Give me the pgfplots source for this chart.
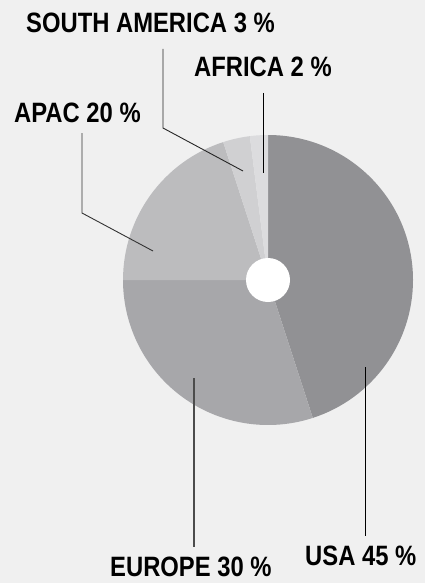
\documentclass[border=0pt]{standalone}
\usepackage{pgfplots}
\pgfplotsset{compat=1.18}
\usepackage{pgfplotstable}
\usepackage{fontspec}
\newfontfamily\labelfont[FakeStretch=0.85]{Liberation Sans Bold}

\definecolor{bg}{HTML}{F0F0F0}
\definecolor{cUSA}{HTML}{919194}
\definecolor{cEU}{HTML}{A7A7AA}
\definecolor{cAPAC}{HTML}{BCBCBE}
\definecolor{cSA}{HTML}{D0D0D2}
\definecolor{cAF}{HTML}{DCDCDE}

\pgfplotstableread{
region value
USA 45
EUROPE 30
APAC 20
SOUTHAMERICA 3
AFRICA 2
}\piedata
\pgfplotstablegetelem{0}{value}\of\piedata \edef\vA{\pgfplotsretval}
\pgfplotstablegetelem{1}{value}\of\piedata \edef\vB{\pgfplotsretval}
\pgfplotstablegetelem{2}{value}\of\piedata \edef\vC{\pgfplotsretval}
\pgfplotstablegetelem{3}{value}\of\piedata \edef\vD{\pgfplotsretval}
\pgfplotstablegetelem{4}{value}\of\piedata \edef\vE{\pgfplotsretval}
\pgfmathsetmacro\aA{90}
\pgfmathsetmacro\aB{\aA-3.6*\vA}
\pgfmathsetmacro\aC{\aB-3.6*\vB}
\pgfmathsetmacro\aD{\aC-3.6*\vC}
\pgfmathsetmacro\aE{\aD-3.6*\vD}
\pgfmathsetmacro\aF{\aE-3.6*\vE}

\begin{document}
\begin{tikzpicture}
\begin{axis}[
  scale only axis, width=425pt, height=583pt,
  xmin=0, xmax=425, ymin=0, ymax=583, y dir=reverse,
  hide axis, clip=false,
]
\fill[bg] (axis cs:0,0) rectangle (axis cs:425,583);
% sectors
\fill[cUSA]  (axis cs:268,280) -- ++(\aA:145pt) arc[start angle=\aA, end angle=\aB, radius=145pt] -- cycle;
\fill[cEU]   (axis cs:268,280) -- ++(\aB:145pt) arc[start angle=\aB, end angle=\aC, radius=145pt] -- cycle;
\fill[cAPAC] (axis cs:268,280) -- ++(\aC:145pt) arc[start angle=\aC, end angle=\aD, radius=145pt] -- cycle;
\fill[cSA]   (axis cs:268,280) -- ++(\aD:145pt) arc[start angle=\aD, end angle=\aE, radius=145pt] -- cycle;
\fill[cAF]   (axis cs:268,280) -- ++(\aE:145pt) arc[start angle=\aE, end angle=\aF, radius=145pt] -- cycle;
\fill[white] (axis cs:268,280) circle[radius=22pt];
% leader lines
\draw[line width=0.9pt, black!85] (axis cs:163,49) -- (axis cs:163,128) -- (axis cs:243,171);
\draw[line width=0.9pt, black] (axis cs:263,93) -- (axis cs:263,173);
\draw[line width=0.9pt, black!80] (axis cs:82,133) -- (axis cs:82,213) -- (axis cs:153,251);
\draw[line width=1.4pt, black!70] (axis cs:194,378) -- (axis cs:194,547);
\draw[line width=0.9pt, black] (axis cs:365,367) -- (axis cs:365,536);
% labels
\begin{scope}[every node/.style={inner sep=0pt, anchor=base west, font=\labelfont\fontsize{28}{32}\selectfont}]
\node at (axis cs:26,33) {SOUTH AMERICA 3 \%};
\node at (axis cs:194,77) {AFRICA 2 \%};
\node at (axis cs:14,123) {APAC 20 \%};
\node at (axis cs:110,576) {EUROPE 30 \%};
\node at (axis cs:305,565) {USA 45 \%};
\end{scope}
\end{axis}
\end{tikzpicture}
\end{document}
